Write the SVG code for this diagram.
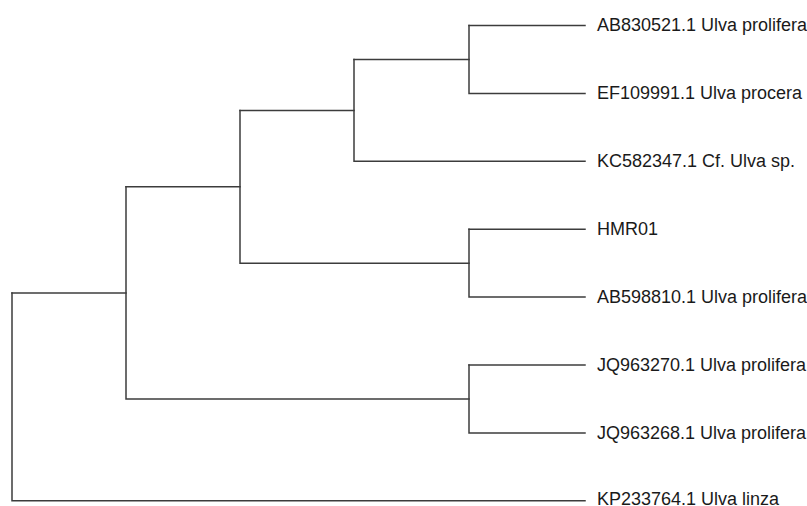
<svg xmlns="http://www.w3.org/2000/svg" width="807" height="506" viewBox="0 0 807 506">
  <style>
    .edge { fill: none; stroke: #3c3c3c; stroke-width: 1.5; stroke-linecap: square; }
    .tip { font-family: "Liberation Sans", Arial, sans-serif; font-size: 18px; fill: #1a1a1a; }
  </style>
  <rect width="807" height="506" fill="#fff"/>
  <!-- tree branches (rectangular cladogram) -->
  <g id="connectors">
    <!-- root -->
    <path class="edge" d="M12,292.9 V500.7 H585"/>
    <path class="edge" d="M12,292.9 H126"/>
    <!-- node A -->
    <path class="edge" d="M126,186.8 V399 H469"/>
    <path class="edge" d="M126,186.8 H240"/>
    <!-- node B -->
    <path class="edge" d="M240,110.4 V263.2 H469"/>
    <path class="edge" d="M240,110.4 H354"/>
    <!-- node C -->
    <path class="edge" d="M354,59.5 V161.3 H585"/>
    <path class="edge" d="M354,59.5 H469"/>
    <!-- node D -->
    <path class="edge" d="M469,25.5 V93.4 H585"/>
    <path class="edge" d="M469,25.5 H585"/>
    <!-- node E -->
    <path class="edge" d="M469,229.2 V297.1 H585"/>
    <path class="edge" d="M469,229.2 H585"/>
    <!-- node F -->
    <path class="edge" d="M469,365 V432.9 H585"/>
    <path class="edge" d="M469,365 H585"/>
  </g>
  <!-- tip labels -->
  <g id="tip-AB830521"><text class="tip" x="597" y="31.2">AB830521.1 Ulva prolifera</text></g>
  <g id="tip-EF109991"><text class="tip" x="597" y="99.1">EF109991.1 Ulva procera</text></g>
  <g id="tip-KC582347"><text class="tip" x="597" y="167">KC582347.1 Cf. Ulva sp.</text></g>
  <g id="tip-HMR01"><text class="tip" x="597" y="234.9">HMR01</text></g>
  <g id="tip-AB598810"><text class="tip" x="597" y="302.8">AB598810.1 Ulva prolifera</text></g>
  <g id="tip-JQ963270"><text class="tip" x="597" y="370.7">JQ963270.1 Ulva prolifera</text></g>
  <g id="tip-JQ963268"><text class="tip" x="597" y="438.6">JQ963268.1 Ulva prolifera</text></g>
  <g id="tip-KP233764"><text class="tip" x="597" y="504.6">KP233764.1 Ulva linza</text></g>
</svg>
